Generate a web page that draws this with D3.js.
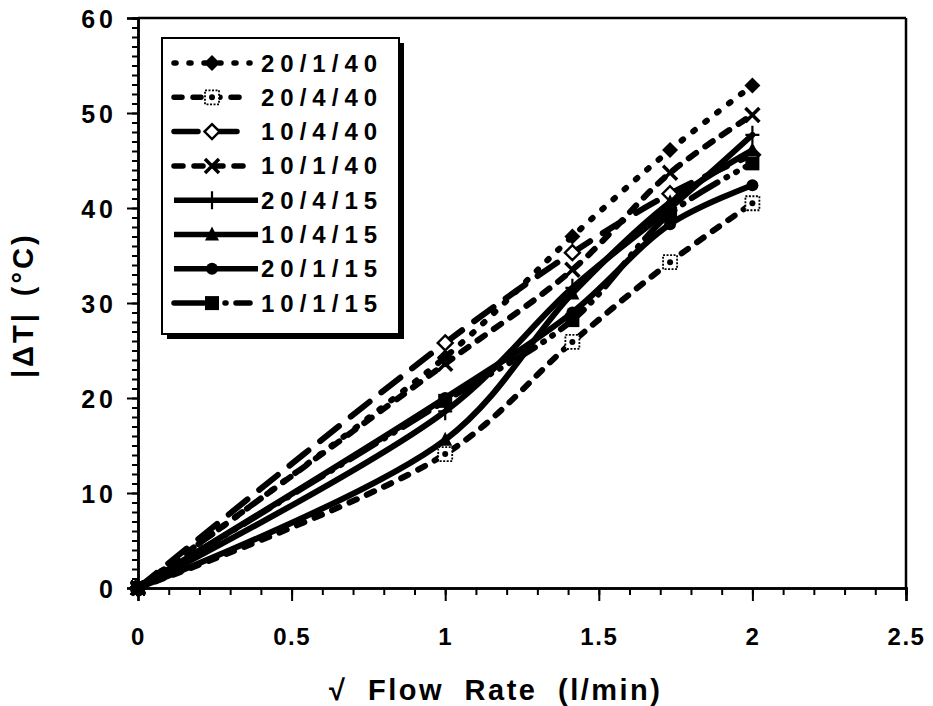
<!DOCTYPE html>
<html>
<head>
<meta charset="utf-8">
<script src="https://cdn.jsdelivr.net/npm/d3@7"></script>
<style>
  html, body { margin: 0; padding: 0; background: #fff; }
  svg { display: block; }
  text { font-family: "Liberation Sans", Arial, sans-serif; font-weight: bold; fill: #000; }
</style>
</head>
<body>
<svg id="chart" width="933" height="706"></svg>
<script>
// √ flow rate values at which temperatures were measured
const flowRoot = [0, 1, 1.414, 1.732, 2];

// |ΔT| (°C) for each test condition
const dT_20_1_40 = [0, 24.3, 37.0, 46.1, 52.9];
const dT_20_4_40 = [0, 14.1, 25.9, 34.3, 40.5];
const dT_10_4_40 = [0, 25.8, 35.3, 41.5, 45.6];
const dT_10_1_40 = [0, 23.6, 33.5, 43.7, 49.8];
const dT_20_4_15 = [0, 18.6, 31.6, 40.0, 47.7];
const dT_10_4_15 = [0, 15.6, 31.0, 40.6, 46.1];
const dT_20_1_15 = [0, 20.0, 29.0, 38.3, 42.4];
const dT_10_1_15 = [0, 19.7, 28.2, 39.4, 44.7];

const seriesLabels = ["20/1/40", "20/4/40", "10/4/40", "10/1/40", "20/4/15", "10/4/15", "20/1/15", "10/1/15"];

const xTickLabels = [0, 0.5, 1, 1.5, 2, 2.5];
const yTickLabels = [0, 10, 20, 30, 40, 50, 60];

// line style + marker for each condition
const styles = [
  { dash: "2,13",  marker: "diamondFilled" },
  { dash: "8,11",  marker: "squareOpen" },
  { dash: "24,15", marker: "diamondOpen" },
  { dash: "9,11",  marker: "cross" },
  { dash: null,    marker: "plus" },
  { dash: null,    marker: "triangle" },
  { dash: null,    marker: "circle" },
  { dash: "30,10,1,10,1,10", marker: "square" }
];

const seriesValues = [dT_20_1_40, dT_20_4_40, dT_10_4_40, dT_10_1_40,
                      dT_20_4_15, dT_10_4_15, dT_20_1_15, dT_10_1_15];
const series = seriesLabels.map((name, i) => ({
  name,
  style: styles[i],
  points: flowRoot.map((x, j) => ({ x, y: seriesValues[i][j] }))
}));

const svg = d3.select("#chart");
const plotLeft = 138, plotRight = 906, plotTop = 18, plotBottom = 588;
const x = d3.scaleLinear().domain([0, 2.5]).range([plotLeft, plotRight]);
const y = d3.scaleLinear().domain([0, 60]).range([plotBottom, plotTop]);

// ---- axes ----
const minorY = svg.append("g").attr("transform", `translate(${plotLeft},0)`)
  .call(d3.axisLeft(y).tickValues(d3.range(0, 61, 1)).tickSize(6).tickFormat(""));
const majorY = svg.append("g").attr("transform", `translate(${plotLeft},0)`)
  .call(d3.axisLeft(y).tickValues(yTickLabels).tickSize(11).tickPadding(10).tickFormat(d3.format("d")));
const minorX = svg.append("g").attr("transform", `translate(0,${plotBottom})`)
  .call(d3.axisBottom(x).tickValues(d3.range(0, 26).map(d => d / 10)).tickSize(7).tickFormat(""));
const majorX = svg.append("g").attr("transform", `translate(0,${plotBottom})`)
  .call(d3.axisBottom(x).tickValues(xTickLabels).tickSize(13).tickPadding(37).tickFormat(d => d3.format("")(d)));

[minorY, majorY, minorX, majorX].forEach(g => {
  g.selectAll(".domain").attr("stroke", "#000").attr("stroke-width", 2.5);
  g.selectAll(".tick line").attr("stroke", "#000").attr("stroke-width", 2);
});
majorY.selectAll("text").style("font-size", "25px").style("letter-spacing", "4px").attr("dy", "0.36em");
majorX.selectAll("text").style("font-size", "24px").style("letter-spacing", "1.5px").attr("dy", "0.3em");

// frame on top and right
svg.append("line").attr("x1", plotLeft).attr("x2", plotRight).attr("y1", plotTop).attr("y2", plotTop)
  .attr("stroke", "#000").attr("stroke-width", 2.5);
svg.append("line").attr("x1", plotRight).attr("x2", plotRight).attr("y1", plotTop).attr("y2", plotBottom)
  .attr("stroke", "#000").attr("stroke-width", 2.5);

// axis titles
svg.append("text").attr("x", 329).attr("y", 700)
  .style("font-size", "29px").style("letter-spacing", "2.5px").style("word-spacing", "10px")
  .text("√ Flow Rate (l/min)");
svg.append("text").attr("transform", "translate(33,378) rotate(-90)")
  .style("font-size", "29px").style("letter-spacing", "3px").style("word-spacing", "4px")
  .text("|ΔT| (°C)");

// ---- markers ----
function drawMarker(g, type, cx, cy) {
  const m = g.append("g").attr("transform", `translate(${cx},${cy})`);
  switch (type) {
    case "diamondFilled":
      m.append("path").attr("d", "M0,-8L8,0L0,8L-8,0Z").attr("fill", "#000");
      break;
    case "diamondOpen":
      m.append("path").attr("d", "M0,-7.5L7.5,0L0,7.5L-7.5,0Z").attr("fill", "#fff").attr("stroke", "#000").attr("stroke-width", 2.4);
      break;
    case "squareOpen":
      m.append("rect").attr("x", -7).attr("y", -7).attr("width", 14).attr("height", 14)
        .attr("fill", "#fff").attr("stroke", "#000").attr("stroke-width", 1.8).attr("stroke-dasharray", "2,1.5");
      m.append("circle").attr("r", 3).attr("fill", "#000");
      break;
    case "cross":
      m.append("path").attr("d", "M-7,-7L7,7M-7,7L7,-7").attr("stroke", "#000").attr("stroke-width", 3.5).attr("fill", "none");
      break;
    case "plus":
      m.append("path").attr("d", "M0,-9L0,9M-7,0L7,0").attr("stroke", "#000").attr("stroke-width", 2.2).attr("fill", "none");
      break;
    case "triangle":
      m.append("path").attr("d", "M0,-8L7,6L-7,6Z").attr("fill", "#000");
      break;
    case "circle":
      m.append("circle").attr("r", 6).attr("fill", "#000");
      break;
    case "square":
      m.append("rect").attr("x", -7).attr("y", -7).attr("width", 14).attr("height", 14).attr("fill", "#000");
      break;
  }
}

// ---- curves ----
const line = d3.line().x(d => x(d.x)).y(d => y(d.y)).curve(d3.curveCatmullRom.alpha(0.5));
const plot = svg.append("g");
series.forEach(s => {
  plot.append("path").datum(s.points).attr("d", line)
    .attr("fill", "none").attr("stroke", "#000").attr("stroke-width", 6)
    .attr("stroke-linecap", "round").attr("stroke-linejoin", "round")
    .attr("stroke-dasharray", s.style.dash);
});
series.forEach(s => {
  s.points.forEach(p => drawMarker(plot, s.style.marker, x(p.x), y(p.y)));
});

// ---- legend ----
const lg = svg.append("g");
const lx = 162, ly = 38, lw = 237, lh = 296;
lg.append("rect").attr("x", lx + 5).attr("y", ly + 5).attr("width", lw).attr("height", lh).attr("fill", "#000");
lg.append("rect").attr("x", lx).attr("y", ly).attr("width", lw).attr("height", lh)
  .attr("fill", "#fff").attr("stroke", "#000").attr("stroke-width", 2);
series.forEach((s, i) => {
  const cy = 63 + i * 34.3;
  const solid = !s.style.dash;
  lg.append("line").attr("x1", 174).attr("x2", solid ? 258 : 250).attr("y1", cy).attr("y2", cy)
    .attr("stroke", "#000").attr("stroke-width", 5.5)
    .attr("stroke-linecap", solid ? "butt" : "round")
    .attr("stroke-dasharray", s.style.dash);
  drawMarker(lg, s.style.marker, 212, cy);
  lg.append("text").attr("x", 261).attr("y", cy + 8.5)
    .style("font-size", "24px").style("letter-spacing", "6px").text(s.name);
});
</script>
</body>
</html>
